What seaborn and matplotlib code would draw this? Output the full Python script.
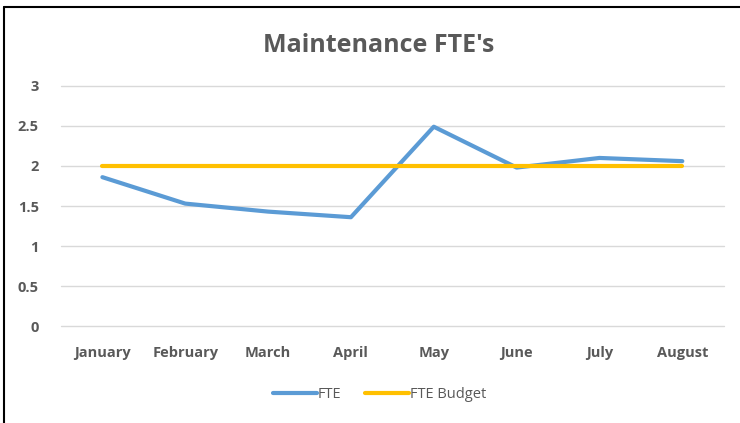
import matplotlib
matplotlib.use("Agg")
import matplotlib.pyplot as plt
from matplotlib.lines import Line2D
import seaborn as sns
import pandas as pd

months = ["January", "February", "March", "April", "May", "June", "July", "August"]
fte = [1.86, 1.53, 1.43, 1.36, 2.49, 1.98, 2.10, 2.06]
fte_budget = [2, 2, 2, 2, 2, 2, 2, 2]
y_ticks = [0, 0.5, 1, 1.5, 2, 2.5, 3]
y_tick_labels = ["0", "0.5", "1", "1.5", "2", "2.5", "3"]

sns.set_theme(style="white")
plt.rcParams["font.family"] = ["Open Sans", "DejaVu Sans"]

df = pd.DataFrame({
    "Month": months * 2,
    "pos": list(range(len(months))) * 2,
    "Value": fte + fte_budget,
    "Series": ["FTE"] * len(months) + ["FTE Budget"] * len(months),
})

text_color = "#595959"
fig = plt.figure(figsize=(7.4, 4.23), dpi=100)
ax = fig.add_axes([0.0824, 0.229, 0.8956, 0.568])

sns.lineplot(
    data=df, x="pos", y="Value", hue="Series",
    palette={"FTE": "#5B9BD5", "FTE Budget": "#FFC000"},
    linewidth=3.0, ax=ax, legend=False, sort=False,
    solid_capstyle="round",
)

ax.set_xlim(-0.5, len(months) - 0.5)
ax.set_ylim(0, 3)
ax.set_yticks(y_ticks)
ax.set_yticklabels(y_tick_labels)
ax.set_xticks(range(len(months)))
ax.set_xticklabels(months)
for lbl in ax.get_xticklabels() + ax.get_yticklabels():
    lbl.set_fontweight("bold")
    lbl.set_color(text_color)
    lbl.set_fontsize(10.5)
ax.tick_params(axis="x", length=0, pad=14)
ax.tick_params(axis="y", length=0, pad=16)
ax.set_xlabel("")
ax.set_ylabel("")
ax.yaxis.grid(True, color="#D9D9D9", linewidth=1.0, clip_on=False)
ax.set_axisbelow(True)
for s in ax.spines.values():
    s.set_visible(False)

fig.text(0.512, 0.893, "Maintenance FTE's", ha="center", va="center",
         fontsize=18, fontweight="bold", color=text_color)

handles = [
    Line2D([], [], color="#5B9BD5", linewidth=3.0, solid_capstyle="round"),
    Line2D([], [], color="#FFC000", linewidth=3.0, solid_capstyle="round"),
]
fig.legend(handles, ["FTE", "FTE Budget"], loc="center", bbox_to_anchor=(0.513, 0.068),
           ncol=2, frameon=False, fontsize=10.5, labelcolor=text_color,
           handlelength=3.0, handletextpad=0.1, columnspacing=1.6)

# Outer frame on the top and left edges
fig.add_artist(Line2D([0.006, 1.0], [0.983, 0.983], color="black", linewidth=1.5,
                      transform=fig.transFigure))
fig.add_artist(Line2D([0.006, 0.006], [0.0, 0.983], color="black", linewidth=1.5,
                      transform=fig.transFigure))

fig.savefig("out.png", dpi=100, facecolor="white")
